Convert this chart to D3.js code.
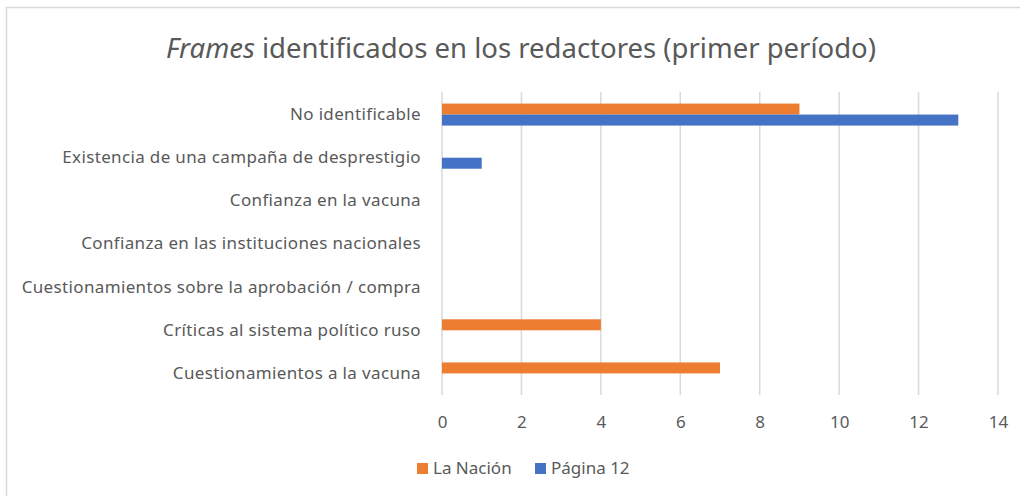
<!DOCTYPE html>
<html>
<head>
<meta charset="utf-8">
<script src="https://cdn.jsdelivr.net/npm/d3@7"></script>
<style>
  body { margin: 0; background: #fff; }
  text { font-family: "Noto Sans", "Open Sans", sans-serif; fill: #595959; }
</style>
</head>
<body>
<script>
// categories, top to bottom
var categories = [
  "No identificable",
  "Existencia de una campaña de desprestigio",
  "Confianza en la vacuna",
  "Confianza en las instituciones nacionales",
  "Cuestionamientos sobre la aprobación / compra",
  "Críticas al sistema político ruso",
  "Cuestionamientos a la vacuna"
];
var seriesNames = ["La Nación", "Página 12"];
var laNacion = [9, 0, 0, 0, 0, 4, 7];
var pagina12 = [13, 1, 0, 0, 0, 0, 0];
var xTicks = [0, 2, 4, 6, 8, 10, 12, 14];
var colors = ["#ED7D31", "#4472C4"];

var width = 1020, height = 496;

var svg = d3.select("body").append("svg")
  .attr("width", width)
  .attr("height", height);

// outer chart border
svg.append("rect")
  .attr("x", 6.5).attr("y", 7.5)
  .attr("width", width).attr("height", height)
  .style("fill", "none")
  .style("stroke", "#d9d9d9")
  .style("stroke-width", 1.5);

var x = d3.scaleLinear().domain([0, 14]).range([442, 998]);
var y = d3.scaleBand().domain(categories).range([93, 395]).paddingInner(0.49).paddingOuter(0.245);
var y1 = d3.scaleBand().domain(seriesNames).range([0, y.bandwidth()]);

// title
var title = svg.append("text")
  .attr("x", 521).attr("y", 58)
  .attr("text-anchor", "middle")
  .style("font-size", "27.5px");
title.append("tspan").style("font-style", "italic").text("Frames");
title.append("tspan").text(" identificados en los redactores (primer período)");

// gridlines
svg.append("g").selectAll("line")
  .data(xTicks)
  .enter().append("line")
  .attr("x1", function(d) { return x(d); })
  .attr("x2", function(d) { return x(d); })
  .attr("y1", 92).attr("y2", 395)
  .style("stroke", "#d9d9d9")
  .style("stroke-width", 1.5);

// x axis labels
var xAxis = svg.append("g")
  .attr("transform", "translate(0,395)")
  .call(d3.axisBottom(x).tickValues(xTicks).tickSize(0).tickPadding(21));
xAxis.select(".domain").remove();
xAxis.selectAll("text").style("font-size", "17px").style("fill", "#595959")
  .style("font-family", "'Noto Sans', sans-serif");

// y axis labels
var yAxis = svg.append("g")
  .attr("transform", "translate(442,0)")
  .call(d3.axisLeft(y).tickSize(0).tickPadding(21));
yAxis.select(".domain").remove();
yAxis.selectAll("text").style("font-size", "17px").style("letter-spacing", "0.35px")
  .style("fill", "#595959")
  .style("font-family", "'Noto Sans', sans-serif");

// bars
var rows = categories.map(function(c, i) {
  return { cat: c, values: [laNacion[i], pagina12[i]] };
});
var groups = svg.append("g").selectAll("g")
  .data(rows)
  .enter().append("g")
  .attr("transform", function(d) { return "translate(0," + y(d.cat) + ")"; });
groups.selectAll("rect")
  .data(function(d) { return d.values.map(function(v, j) { return { name: seriesNames[j], v: v, j: j }; }); })
  .enter().append("rect")
  .attr("x", x(0))
  .attr("y", function(d) { return y1(d.name); })
  .attr("width", function(d) { return x(d.v) - x(0); })
  .attr("height", y1.bandwidth())
  .style("fill", function(d) { return colors[d.j]; });

// legend
var legendX = [417, 535];
var legend = svg.append("g").selectAll("g")
  .data(seriesNames)
  .enter().append("g")
  .attr("transform", function(d, i) { return "translate(" + legendX[i] + ",463)"; });
legend.append("rect")
  .attr("width", 11).attr("height", 11)
  .style("fill", function(d, i) { return colors[i]; });
legend.append("text")
  .attr("x", 16).attr("y", 5.5)
  .attr("dy", ".35em")
  .style("font-size", "17px")
  .text(function(d) { return d; });
</script>
</body>
</html>
